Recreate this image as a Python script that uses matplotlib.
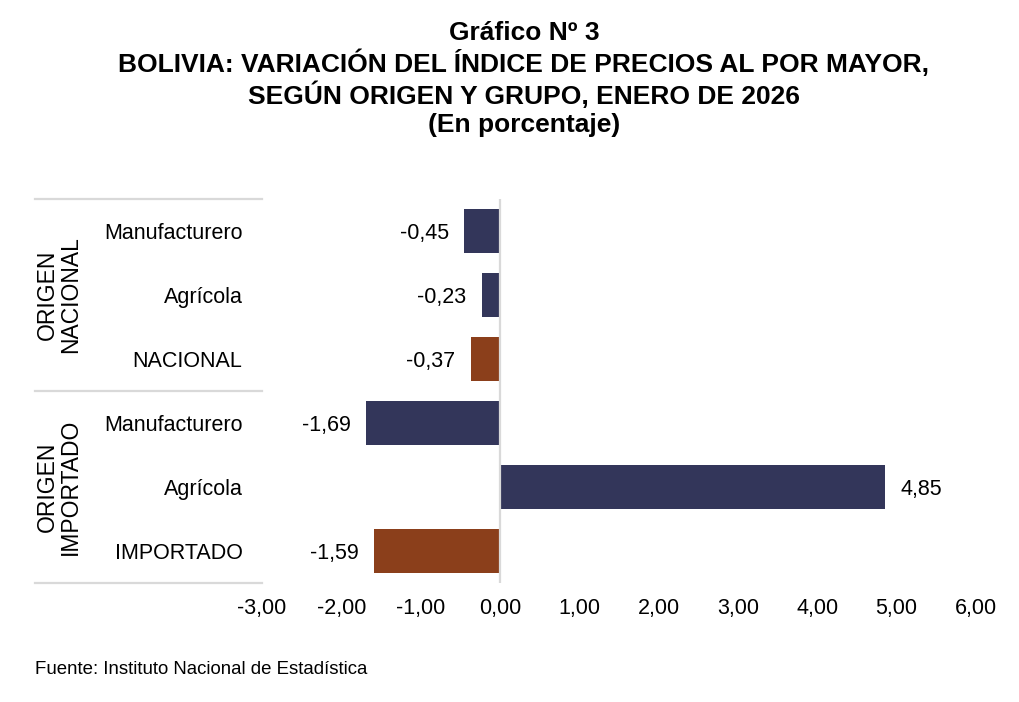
import matplotlib
matplotlib.use("Agg")
from matplotlib import pyplot as plt
from matplotlib import transforms

plt.rcParams['font.family'] = ['Liberation Sans', 'DejaVu Sans']

# datos del grafico
categorias = ['Manufacturero', 'Agrícola', 'NACIONAL',
              'Manufacturero', 'Agrícola', 'IMPORTADO']
variacion = [-0.45, -0.23, -0.37, -1.69, 4.85, -1.59]
es_total = [False, False, True, False, False, True]
grupos = ['ORIGEN\nNACIONAL', 'ORIGEN\nIMPORTADO']
ticks_x = [-3, -2, -1, 0, 1, 2, 3, 4, 5, 6]

azul = '#33365A'
cafe = '#8B3F1B'
gris = '#D9D9D9'
fs = 15.5

fig = plt.figure(figsize=(10.2, 7.02), dpi=100)
ax = fig.add_axes([262/1020, 1 - 583/702, 714/1020, 384/702])

pos = list(range(len(categorias)))
colores = [cafe if t else azul for t in es_total]
ax.barh(pos, variacion, height=0.7, color=colores, zorder=2)

ax.set_ylim(5.5, -0.5)
ax.set_xlim(-3, 6)
ax.set_yticks(pos)
ax.set_yticklabels(categorias, fontsize=fs)
ax.set_xticks(ticks_x)
ax.set_xticklabels([('%.2f' % t).replace('.', ',') for t in ticks_x], fontsize=fs)
ax.tick_params(axis='y', length=0, pad=14)
ax.tick_params(axis='x', length=0, pad=11)
for s in ax.spines.values():
    s.set_visible(False)

# linea del cero
ax.axvline(0, color=gris, lw=1.6, zorder=3)

# etiquetas de valores
for p, v in zip(pos, variacion):
    txt = ('%.2f' % v).replace('.', ',')
    if v < 0:
        ax.annotate(txt, (v, p), xytext=(-11, 0), textcoords='offset points',
                    ha='right', va='center_baseline', fontsize=fs)
    else:
        ax.annotate(txt, (v, p), xytext=(11, 0), textcoords='offset points',
                    ha='left', va='center_baseline', fontsize=fs)

# separadores y nombres de grupo
trans = transforms.blended_transform_factory(ax.transAxes, ax.transData)
for yy in [-0.5, 2.5, 5.5]:
    ax.plot([(35 - 262) / 714, 0], [yy, yy], color=gris, lw=1.6,
            transform=trans, clip_on=False)
for i, g in enumerate(grupos):
    ax.text((59 - 262) / 714, 1 + 3 * i, g, transform=trans, rotation=90,
            ha='center', va='center', fontsize=16.5, linespacing=1.0)

titulo = ('Gráfico Nº 3\n'
          'BOLIVIA: VARIACIÓN DEL ÍNDICE DE PRECIOS AL POR MAYOR,\n'
          'SEGÚN ORIGEN Y GRUPO, ENERO DE 2026\n'
          '(En porcentaje)')
fig.text(524/1020, 1 - 21/702, titulo, ha='center', va='top', fontsize=19,
         fontweight='bold', linespacing=1.2)

fig.text(35/1020, 1 - 670/702, 'Fuente: Instituto Nacional de Estadística',
         ha='left', va='center', fontsize=13.4)

fig.savefig('out.png', dpi=100)
